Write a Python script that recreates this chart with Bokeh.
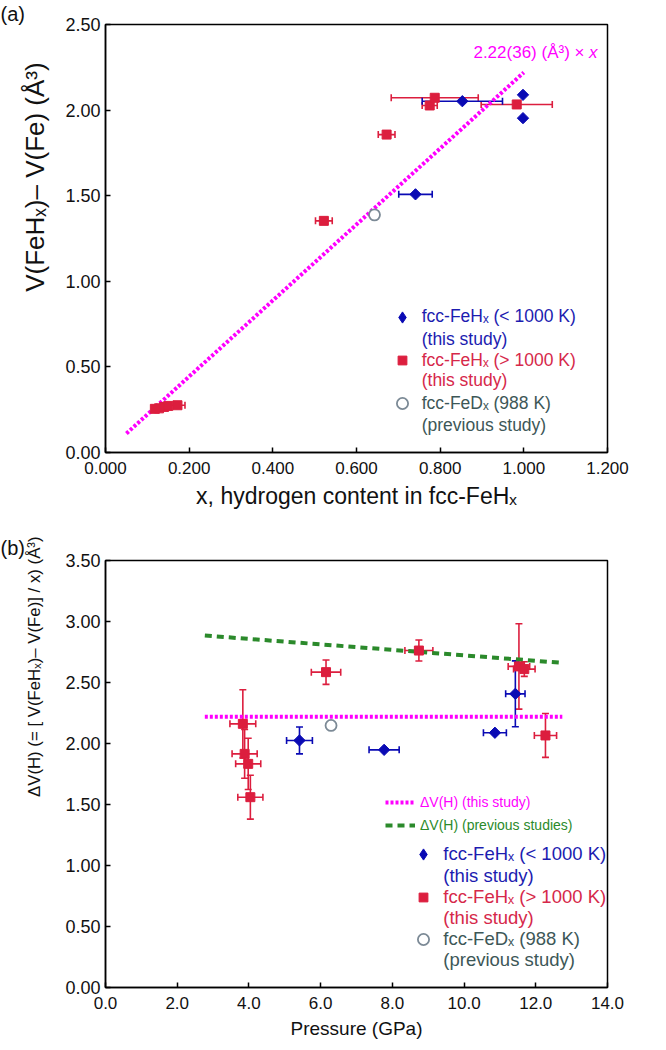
import numpy as np
from bokeh.plotting import figure
from bokeh.models import (ColumnDataSource, Whisker, TeeHead, Range1d, FixedTicker,
                          NumeralTickFormatter, Legend, LegendItem, Label)
from bokeh.layouts import column
from bokeh.embed import file_html
from bokeh.resources import INLINE

# ---------------- data: panel (a) ----------------
a_blue_x = [0.741, 0.853, 0.998, 0.998]
a_blue_y = [1.508, 2.052, 2.089, 1.953]
a_blue_xerr = [0.040, 0.096, 0.0, 0.0]
a_blue_yerr = [0.0, 0.0, 0.0, 0.0]

a_red_x = [0.118, 0.128, 0.140, 0.150, 0.172, 0.522, 0.672, 0.775, 0.787, 0.983]
a_red_y = [0.255, 0.258, 0.266, 0.272, 0.276, 1.353, 1.857, 2.027, 2.072, 2.033]
a_red_xerr = [0.0, 0.0, 0.0, 0.0, 0.018, 0.020, 0.020, 0.018, 0.104, 0.085]
a_red_yerr = [0.0] * 10

a_prev_x = [0.643]
a_prev_y = [1.388]

fit_slope = 2.22
fit_x = [0.05, 1.0]

# ---------------- data: panel (b) ----------------
b_blue_p = [5.41, 7.77, 10.86, 11.43]
b_blue_dv = [2.025, 1.948, 2.088, 2.407]
b_blue_perr = [0.36, 0.42, 0.32, 0.27]
b_blue_dverr = [0.11, 0.0, 0.0, 0.27]

b_red_p = [3.83, 3.88, 3.98, 4.04, 6.15, 8.74, 11.53, 11.68, 12.27]
b_red_dv = [2.161, 1.915, 1.833, 1.560, 2.585, 2.762, 2.632, 2.610, 2.066]
b_red_perr = [0.36, 0.35, 0.35, 0.35, 0.41, 0.39, 0.30, 0.30, 0.31]
b_red_dverr = [0.28, 0.20, 0.21, 0.18, 0.10, 0.086, 0.35, 0.06, 0.18]

b_prev_p = [6.29]
b_prev_dv = [2.148]

this_line_p = [2.77, 12.74]
this_line_dv = [2.22, 2.22]
prev_line_p = [2.77, 12.74]
prev_line_dv = [2.885, 2.661]

a_xticks = [0.0, 0.2, 0.4, 0.6, 0.8, 1.0, 1.2]
a_yticks = [0.0, 0.5, 1.0, 1.5, 2.0, 2.5]
b_xticks = [0, 2, 4, 6, 8, 10, 12, 14]
b_yticks = [0.0, 0.5, 1.0, 1.5, 2.0, 2.5, 3.0, 3.5]

FONT = "Liberation Sans"
BLUE = "#0a0ab4"
RED = "#dc1e3e"
MAG = "#ff00ff"
GREEN = "#2b8a2b"
CIRC = "#7c8a96"
BLUE_T = "#1c1cb0"
RED_T = "#d6284a"
GRAY_T = "#3d5757"
INK = "#111111"
NB = "\u00a0"


def style(p, xticks, yticks, xfmt, yfmt, xlabel, xfs, ylabel, yfs, ystand):
    p.grid.visible = False
    p.outline_line_color = "black"
    p.outline_line_width = 1.5
    p.background_fill_color = "white"
    p.border_fill_color = "white"
    for ax in (p.xaxis[0], p.yaxis[0]):
        ax.axis_line_width = 1.5
        ax.axis_line_color = "black"
        ax.major_tick_in = 5
        ax.major_tick_out = 0
        ax.major_tick_line_width = 1.5
        ax.minor_tick_in = 0
        ax.minor_tick_out = 0
        ax.major_label_text_font = FONT
        ax.major_label_text_color = INK
        ax.axis_label_text_font = FONT
        ax.axis_label_text_font_style = "normal"
        ax.axis_label_text_color = INK
    p.xaxis[0].major_label_text_font_size = "17px"
    p.yaxis[0].major_label_text_font_size = "18px"
    p.xaxis[0].ticker = FixedTicker(ticks=xticks)
    p.yaxis[0].ticker = FixedTicker(ticks=yticks)
    p.xaxis[0].formatter = NumeralTickFormatter(format=xfmt)
    p.yaxis[0].formatter = NumeralTickFormatter(format=yfmt)
    p.xaxis[0].axis_label = xlabel
    p.xaxis[0].axis_label_text_font_size = xfs
    p.yaxis[0].axis_label = ylabel
    p.yaxis[0].axis_label_text_font_size = yfs
    p.xaxis[0].major_label_standoff = 9
    p.yaxis[0].major_label_standoff = 5
    p.xaxis[0].axis_label_standoff = 6
    p.yaxis[0].axis_label_standoff = ystand


def panel_tag(p, text, standoff, valign):
    p.title.text = text
    p.title.align = "left"
    p.title.offset = -105
    p.title.standoff = standoff
    p.title.vertical_align = valign
    p.title.text_font = FONT
    p.title.text_font_size = "20px"
    p.title.text_font_style = "normal"
    p.title.text_color = INK


def add_errors(p, xs, ys, xerr, yerr, color):
    ix = [i for i, e in enumerate(xerr) if e > 0]
    if ix:
        src = ColumnDataSource(dict(b=[ys[i] for i in ix],
                                    lo=[xs[i] - xerr[i] for i in ix],
                                    hi=[xs[i] + xerr[i] for i in ix]))
        p.add_layout(Whisker(source=src, base="b", lower="lo", upper="hi", dimension="width",
                             line_color=color, line_width=1.6,
                             lower_head=TeeHead(size=7, line_color=color, line_width=1.6),
                             upper_head=TeeHead(size=7, line_color=color, line_width=1.6)))
    iy = [i for i, e in enumerate(yerr) if e > 0]
    if iy:
        src = ColumnDataSource(dict(b=[xs[i] for i in iy],
                                    lo=[ys[i] - yerr[i] for i in iy],
                                    hi=[ys[i] + yerr[i] for i in iy]))
        p.add_layout(Whisker(source=src, base="b", lower="lo", upper="hi", dimension="height",
                             line_color=color, line_width=1.6,
                             lower_head=TeeHead(size=7, line_color=color, line_width=1.6),
                             upper_head=TeeHead(size=7, line_color=color, line_width=1.6)))


def one_legend(p, text, rend, color, fx, fy, fs, gw=28, gh=28, standoff=6):
    lg = Legend(items=[LegendItem(label=text, renderers=[rend])], location=(fx, fy),
                orientation="vertical", padding=0, spacing=0, margin=0,
                glyph_width=gw, glyph_height=gh, label_height=gh, label_standoff=standoff,
                label_text_color=color, label_text_font=FONT, label_text_font_size=fs,
                label_text_baseline="middle",
                border_line_alpha=0, background_fill_alpha=0)
    p.add_layout(lg)


def proxies(p):
    nan = [float("nan")]
    blank = p.scatter(x=nan, y=nan, size=1, fill_alpha=0, line_alpha=0)
    dia = p.scatter(x=nan, y=nan, marker="diamond", fill_color=BLUE, line_color=BLUE)
    sq = p.scatter(x=nan, y=nan, marker="square", fill_color=RED, line_color=RED)
    circ = p.scatter(x=nan, y=nan, marker="circle", fill_color="white", line_color=CIRC,
                     line_width=1.8)
    return blank, dia, sq, circ


# ================= panel (a) =================
pa = figure(width=658, height=528, output_backend="svg", toolbar_location=None,
            x_range=Range1d(0, 1.2), y_range=Range1d(0, 2.5),
            min_border_left=105, min_border_right=51, min_border_top=22, min_border_bottom=76)
style(pa, a_xticks, a_yticks, "0.000", "0.00",
      "x, hydrogen content in fcc-FeHₓ", "23px",
      NB * 17 + "V(FeHₓ)– V(Fe) (Å³)", "26px", 12)
panel_tag(pa, "(a)", 0, "bottom")

fit_y = [fit_slope * v for v in fit_x]
pa.line(fit_x, fit_y, line_color=MAG, line_width=4, line_dash="3 2")

add_errors(pa, a_red_x, a_red_y, a_red_xerr, a_red_yerr, RED)
add_errors(pa, a_blue_x, a_blue_y, a_blue_xerr, a_blue_yerr, BLUE)
pa.scatter(a_red_x, a_red_y, marker="square", size=9, fill_color=RED, line_color=RED)
pa.scatter(a_blue_x, a_blue_y, marker="square", angle=np.pi / 4, size=8,
           fill_color=BLUE, line_color=BLUE)
pa.scatter(a_prev_x, a_prev_y, marker="circle", size=11, fill_color="white",
           line_color=CIRC, line_width=1.8)

pa.add_layout(Label(x=1.176, y=2.337, text="x", text_align="right", text_baseline="middle",
                    text_color=MAG, text_font=FONT, text_font_size="17px",
                    text_font_style="italic"))
pa.add_layout(Label(x=1.176, y=2.337, x_offset=-13, text="2.22(36) (Å³) ×", text_align="right",
                    text_baseline="middle", text_color=MAG, text_font=FONT,
                    text_font_size="17px"))

blank, dia, sq, circ = proxies(pa)
FB_A = 452  # page y of frame bottom
LX_A = 282.7
rows_a = [316.7, 339.5, 360.0, 380.5, 403.0, 425.0]
leg_a = [("fcc-FeHₓ (< 1000 K)", dia, BLUE_T, 28), ("(this study)", blank, BLUE_T, 28),
         ("fcc-FeHₓ (> 1000 K)", sq, RED_T, 22), ("(this study)", blank, RED_T, 28),
         ("fcc-FeDₓ (988 K)", circ, GRAY_T, 28), ("(previous study)", blank, GRAY_T, 28)]
for (t, r, c, gh), yc in zip(leg_a, rows_a):
    one_legend(pa, t, r, c, LX_A, FB_A - (yc + gh / 2), "17.5px", gh=gh)

# ================= panel (b) =================
pb = figure(width=658, height=519, output_backend="svg", toolbar_location=None,
            x_range=Range1d(0, 14), y_range=Range1d(0, 3.5),
            min_border_left=105, min_border_right=51, min_border_top=32, min_border_bottom=60)
style(pb, b_xticks, b_yticks, "0.0", "0.00", "Pressure (GPa)", "19px",
      NB * 46 + "ΔV(H) (= [ V(FeHₓ)– V(Fe)] / x) (Å³)", "16.8px", 18)
panel_tag(pb, "(b)", 0, "top")

l_this = pb.line(this_line_p, this_line_dv, line_color=MAG, line_width=4, line_dash="3 2")
l_prev = pb.line(prev_line_p, prev_line_dv, line_color=GREEN, line_width=4, line_dash="7 5")

add_errors(pb, b_red_p, b_red_dv, b_red_perr, b_red_dverr, RED)
add_errors(pb, b_blue_p, b_blue_dv, b_blue_perr, b_blue_dverr, BLUE)
pb.scatter(b_red_p, b_red_dv, marker="square", size=9, fill_color=RED, line_color=RED)
pb.scatter(b_blue_p, b_blue_dv, marker="square", angle=np.pi / 4, size=8,
           fill_color=BLUE, line_color=BLUE)
pb.scatter(b_prev_p, b_prev_dv, marker="circle", size=11, fill_color="white",
           line_color=CIRC, line_width=1.8)

blank_b, dia_b, sq_b, circ_b = proxies(pb)
FB_B = 987
one_legend(pb, "ΔV(H) (this study)", l_this, MAG, 280, FB_B - (801.7 + 10), "14px",
           gw=30, gh=20, standoff=5)
one_legend(pb, "ΔV(H) (previous studies)", l_prev, GREEN, 280, FB_B - (825.0 + 10), "14px",
           gw=30, gh=20, standoff=5)
LX_B = 304.3
rows_b = [854.3, 875.5, 897.0, 918.0, 938.5, 960.0]
leg_b = [("fcc-FeHₓ (< 1000 K)", dia_b, BLUE_T, 28), ("(this study)", blank_b, BLUE_T, 28),
         ("fcc-FeHₓ (> 1000 K)", sq_b, RED_T, 22), ("(this study)", blank_b, RED_T, 28),
         ("fcc-FeDₓ (988 K)", circ_b, GRAY_T, 28), ("(previous study)", blank_b, GRAY_T, 28)]
for (t, r, c, gh), yc in zip(leg_b, rows_b):
    one_legend(pb, t, r, c, LX_B, FB_B - (yc + gh / 2), "18.5px", gh=gh)

layout = column(pa, pb, spacing=0)
open("out.html", "w").write(file_html(layout, INLINE))
